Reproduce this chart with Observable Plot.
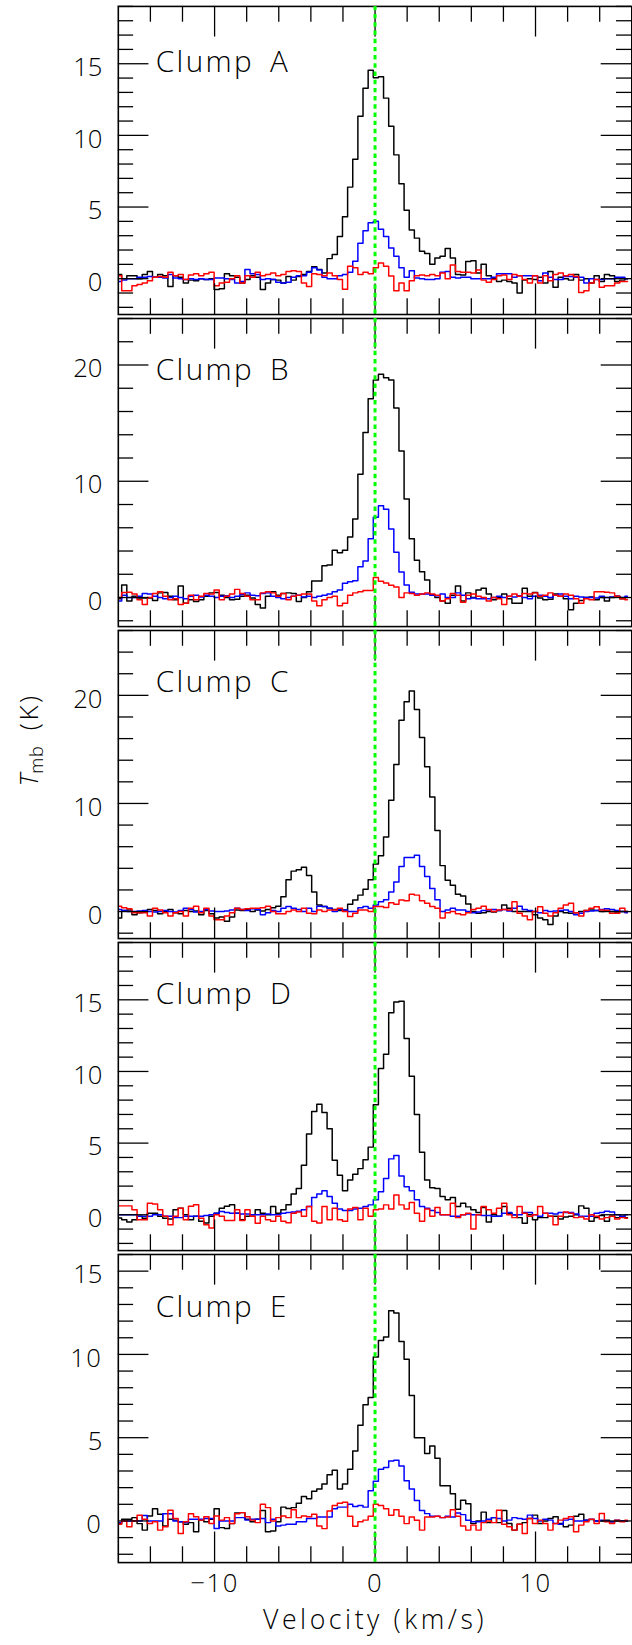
<!DOCTYPE html>
<html><head><meta charset="utf-8">
<script src="https://cdn.jsdelivr.net/npm/d3@7"></script>
<script src="https://cdn.jsdelivr.net/npm/@observablehq/plot@0.6"></script>
<style>
html,body{margin:0;padding:0;background:#fff;overflow:hidden}
#fig{position:relative;width:632px;height:1645px;overflow:hidden;background:#fff;font-family:"Open Sans","Liberation Sans",Arial,sans-serif;font-weight:300}
#fig svg{position:absolute;left:0}
#fig svg text{font-weight:300}
#ylab{position:absolute;left:30px;top:740px;transform:translate(-50%,-50%) rotate(-90deg);font-size:26px;white-space:nowrap;line-height:1;color:#000}
#ylab sub{font-size:18px;vertical-align:-5px;letter-spacing:1px}
#ylab .k{margin-left:15px;letter-spacing:2.5px}
</style></head><body>
<div id="fig"><div id="ylab"><i>T</i><sub>mb</sub><span class="k">(K)</span></div></div>
<script>
// channel grid (km/s)
const V0 = -15.95, DV = 0.32;

const clumpA_black = [
 0.3,0.0,0.2,0.2,0.0,0.3,0.5,0.1,0.3,0.2,
 -0.55,0.2,0.1,-0.3,-0.1,-0.15,0.0,-0.05,0.0,-0.75,
 -0.7,0.35,0.2,0.1,-0.3,-0.05,0.2,0.1,-0.75,-0.3,
 -0.05,-0.1,-0.3,0.15,-0.1,0.15,0.3,0.5,0.83,0.65,
 0.4,1.4,1.68,2.94,4.32,6.39,8.34,11.33,13.29,14.55,
 14.02,14.09,12.6,10.64,8.64,6.62,4.78,3.4,2.83,1.91,
 1.75,1.0,1.45,1.56,2.1,1.45,0.3,0.25,1.2,1.25,
 0.4,1.0,0.2,0.0,-0.2,-0.1,-0.2,-0.3,-1.0,-0.1,
 0.0,-0.05,0.1,-0.3,0.5,-0.6,0.1,0.0,-0.1,0.3,
 -0.1,0.0,-0.3,0.2,-0.2,0.3,0.2,-0.2,-0.1,0.0];
const clumpA_blue = [
 -0.2,-0.1,0.0,0.0,0.1,0.1,0.15,0.1,0.1,0.05,
 0.3,0.05,0.0,-0.05,0.0,-0.05,0.0,-0.05,-0.05,0.05,
 0.05,0.0,-0.05,-0.3,-0.2,0.64,0.35,0.3,-0.05,0.0,
 -0.05,-0.25,-0.3,-0.25,0.1,0.2,0.2,0.45,0.76,0.6,
 0.1,0.0,0.0,0.2,0.3,0.45,1.22,2.48,3.35,3.9,
 4.0,3.45,2.94,2.14,1.56,0.76,0.1,0.55,0.05,0.0,
 -0.05,-0.05,0.0,0.45,0.5,0.1,0.05,0.1,0.1,0.0,
 0.0,0.0,0.0,0.1,0.35,0.35,0.35,0.1,0.2,0.2,
 0.2,0.2,-0.15,0.4,0.1,-0.05,-0.05,0.15,0.15,0.1,
 0.1,-0.3,0.0,-0.05,-0.05,0.0,0.0,0.1,0.1,0.0];
const clumpA_red = [
 0.2,-0.85,-0.85,-0.5,-0.4,-0.3,-0.15,0.1,0.15,0.1,
 0.45,0.2,0.3,-0.05,0.25,0.35,0.2,0.35,0.45,-0.5,
 -0.3,-0.25,0.0,0.2,-0.3,0.2,0.1,0.45,0.2,0.3,
 0.4,0.2,0.3,0.5,0.55,0.5,-0.3,-0.55,0.35,0.3,
 0.2,0.4,0.2,-0.05,-0.74,0.87,0.76,0.3,0.45,0.35,
 0.76,1.1,0.87,0.18,-0.85,-0.3,-0.85,-0.15,0.2,0.25,
 0.2,0.3,0.2,0.4,0.0,0.95,0.5,0.45,0.45,0.4,
 0.6,-0.1,-0.25,-0.05,0.2,0.25,-0.05,0.3,0.2,-0.05,
 -0.3,0.2,-0.3,0.2,-0.15,0.3,0.4,0.2,0.3,0.15,
 -0.96,-0.85,-0.3,-0.05,-0.6,-0.5,-0.5,-0.3,-0.2,-0.2];

const clumpB_black = [
 -0.1,1.08,-0.3,0.1,-0.05,-0.05,-0.05,-0.25,0.4,0.43,
 0.1,-0.2,1.0,-0.5,-0.2,-0.35,-0.2,0.1,0.4,0.43,
 0.2,0.0,-0.2,-0.15,0.1,0.2,-0.05,-0.6,-0.9,0.1,
 0.5,0.2,0.35,0.4,0.35,-0.35,0.0,0.5,1.42,1.42,
 2.73,2.8,4.06,3.85,4.06,5.2,6.76,10.6,14.2,17.1,
 18.7,19.2,18.9,18.7,16.3,12.6,8.47,5.06,3.21,2.22,
 1.5,0.23,0.0,-0.3,-0.5,0.2,1.0,-0.3,0.4,0.0,
 0.65,0.8,0.3,-0.2,0.0,0.3,-0.1,-0.5,-0.5,0.8,
 0.1,0.43,-0.05,-0.2,-0.15,0.3,0.1,-0.1,-1.05,-0.5,
 -0.25,0.0,0.05,-0.2,0.0,-0.3,0.0,0.1,-0.1,0.0];
const clumpB_blue = [
 -0.3,0.2,0.0,0.0,0.1,0.35,0.3,0.1,0.0,-0.1,
 0.0,0.1,0.0,-0.1,0.1,0.2,0.05,0.2,0.1,0.0,
 0.1,0.15,0.0,0.1,0.25,0.4,0.2,0.15,0.35,0.4,
 0.1,0.0,-0.1,0.0,0.1,0.2,0.05,0.1,0.0,0.1,
 0.2,0.3,0.5,0.65,1.22,1.36,1.45,2.64,3.15,5.06,
 6.9,7.9,7.6,5.9,3.9,2.2,1.08,0.45,0.3,0.3,
 0.3,0.2,0.15,0.3,0.0,0.0,0.4,0.2,-0.1,-0.05,
 -0.1,-0.1,-0.1,0.0,0.1,0.0,0.1,0.05,0.15,0.0,
 -0.1,0.1,0.2,0.1,0.0,0.2,0.3,0.1,-0.1,0.1,
 0.05,0.0,0.0,-0.05,0.1,0.0,0.05,0.1,0.0,0.1];
const clumpB_red = [
 0.0,0.43,0.45,0.3,-0.2,-0.6,0.0,0.35,0.5,0.1,
 -0.2,-0.1,-0.6,-0.5,0.2,-0.2,0.1,0.35,0.3,0.65,
 -0.2,0.1,0.3,0.7,0.35,0.1,-0.2,-0.2,0.4,0.5,
 0.4,0.1,0.35,-0.2,0.1,0.2,0.3,0.3,-0.3,-0.7,
 -0.2,0.0,0.1,-0.7,-0.5,0.2,0.4,0.5,0.6,0.6,
 1.73,1.4,1.25,1.05,0.9,0.0,0.4,0.35,0.2,0.3,
 0.4,0.3,0.2,-0.3,-0.1,0.35,0.2,-0.4,0.2,0.3,
 0.1,0.0,-0.3,0.0,-0.1,-0.6,0.1,0.3,0.1,0.35,
 0.3,0.4,0.1,0.2,0.4,0.2,0.1,0.3,0.2,-0.1,
 -0.5,-0.1,-0.2,0.5,0.5,0.45,0.4,0.1,-0.1,-0.2];

const clumpC_black = [
 -0.6,0.1,0.15,-0.3,-0.1,0.0,0.2,0.1,-0.2,0.0,
 0.2,-0.1,-0.2,0.1,0.0,0.05,-0.3,0.1,-0.2,-0.6,
 -0.5,-0.9,-0.5,0.15,0.1,0.2,0.0,0.15,0.05,0.2,
 0.35,0.5,1.37,2.95,3.74,3.86,4.1,3.34,1.82,0.6,
 0.46,0.3,0.2,0.1,0.15,0.67,1.06,1.52,2.07,2.95,
 4.4,5.17,6.9,10.3,13.6,17.7,19.4,20.4,18.7,16.1,
 13.4,10.6,7.5,4.25,2.9,2.43,1.6,1.45,0.7,0.0,
 -0.15,-0.1,0.0,-0.05,0.1,0.6,0.3,0.0,0.0,0.0,
 0.0,-0.3,-0.6,-0.76,-1.2,-0.4,0.0,-0.1,-0.15,-0.1,
 0.0,0.1,0.15,0.1,0.0,0.1,0.0,-0.05,0.0,0.0];
const clumpC_blue = [
 0.2,0.1,0.0,0.0,0.05,0.1,0.0,-0.05,0.0,0.1,
 0.0,-0.05,0.1,0.3,0.2,-0.05,0.0,0.2,0.05,0.0,
 0.0,0.05,0.15,0.3,0.2,0.1,0.25,0.2,-0.3,-0.1,
 0.1,0.0,0.3,0.46,0.3,0.2,0.0,0.3,0.0,0.5,
 0.46,0.3,0.0,0.2,0.15,0.0,0.0,0.36,0.46,0.3,
 0.6,0.9,1.1,1.82,2.73,4.16,5.0,5.0,5.2,4.16,
 3.25,2.13,1.1,0.0,0.15,0.3,0.15,0.15,0.0,-0.1,
 -0.05,0.1,0.15,0.2,0.1,0.2,0.05,0.3,0.5,0.2,
 0.1,0.0,-0.1,0.1,0.0,0.05,0.1,0.15,0.0,-0.3,
 -0.15,0.0,0.05,0.1,0.2,0.25,0.2,0.1,0.0,-0.1];
const clumpC_red = [
 0.5,0.35,0.25,-0.1,-0.1,-0.1,-0.4,0.3,0.15,-0.1,
 -0.4,-0.1,0.0,-0.4,0.3,0.5,-0.1,0.3,-0.4,-0.76,
 -0.76,-0.4,-0.1,0.3,0.2,0.25,0.3,0.3,0.35,0.5,
 0.0,-0.2,-0.2,0.0,0.15,0.0,0.3,-0.15,-0.2,0.15,
 0.0,0.15,0.15,0.3,0.0,-0.46,-0.15,0.15,0.15,0.0,
 0.46,0.46,0.37,0.82,0.67,1.06,1.0,1.6,1.52,1.0,
 0.76,0.46,0.3,-0.6,-0.1,0.0,-0.2,-0.3,-0.1,0.2,
 0.3,0.5,0.2,0.0,0.15,0.2,0.15,0.9,-0.15,-0.4,
 -0.76,0.0,0.45,-0.15,-0.4,-0.1,0.3,0.6,0.76,-0.1,
 -0.4,0.1,0.3,0.45,0.15,0.1,-0.15,-0.15,0.3,0.0];

const clumpD_black = [
 -0.23,-0.35,-0.5,-0.35,-0.1,-0.25,0.1,0.1,-0.1,-0.25,
 -0.3,0.35,0.46,0.0,-0.35,-0.1,-0.45,-0.58,-0.1,0.1,
 0.46,0.6,0.7,0.1,-0.35,-0.1,0.0,0.35,0.1,0.0,
 0.58,0.1,0.35,0.7,1.45,1.84,3.45,5.64,7.2,7.71,
 7.14,6.0,3.8,2.76,1.68,2.42,2.83,3.22,3.84,4.72,
 7.67,10.2,11.2,14.1,14.85,14.9,12.3,9.67,7.0,4.37,
 2.42,1.89,1.84,1.27,1.04,1.2,0.58,0.8,0.55,0.35,
 0.15,0.5,-0.5,0.0,-0.1,0.58,0.1,0.0,-0.2,-0.6,
 0.0,-0.35,-0.2,-0.2,-0.1,-0.1,-0.3,-0.15,-0.1,0.0,
 0.62,0.46,-0.46,-0.2,-0.05,-0.46,-0.1,-0.2,-0.1,-0.2];
const clumpD_blue = [
 0.0,0.0,0.0,0.0,-0.1,-0.1,-0.1,0.0,0.0,-0.1,
 -0.1,-0.2,-0.2,-0.1,-0.1,-0.1,-0.1,-0.05,0.0,0.1,
 0.23,0.15,0.1,0.1,0.05,0.05,0.0,0.0,0.0,0.05,
 0.0,0.0,0.1,0.15,0.2,0.25,0.35,0.58,1.2,1.45,
 1.68,1.27,0.8,0.4,0.3,0.3,0.4,0.46,0.58,0.69,
 1.04,1.61,2.53,3.9,4.14,2.7,1.96,1.68,1.04,0.58,
 0.46,0.3,0.15,0.0,0.0,-0.1,-0.1,0.0,0.05,0.0,
 0.0,-0.05,-0.05,-0.1,-0.1,0.1,0.15,0.0,0.0,0.15,
 0.15,0.0,-0.1,0.1,0.1,0.05,0.15,0.15,0.15,0.05,
 -0.1,-0.1,-0.1,0.1,0.15,0.25,0.2,0.0,-0.1,0.0];
const clumpD_red = [
 0.62,0.62,0.62,0.35,-0.35,-0.35,0.8,0.75,0.35,-0.1,
 -0.7,-0.1,0.46,-0.35,0.6,0.7,-0.25,-0.7,-0.92,0.0,
 -0.1,-0.4,-0.4,0.35,-0.4,0.35,-0.1,-0.6,-0.1,-0.35,
 -0.45,-0.1,-0.45,-0.55,0.1,0.2,-0.1,0.58,-0.46,-0.58,
 0.58,-0.35,0.46,-0.35,-0.46,0.4,0.5,-0.35,0.46,-0.1,
 0.35,0.4,0.69,0.4,1.38,0.69,0.4,0.85,0.1,-0.46,
 0.4,-0.1,0.5,0.0,0.0,0.8,-0.2,0.0,0.1,-1.0,
 0.0,0.58,0.35,0.1,0.46,0.8,0.0,-0.2,0.58,0.1,
 -0.1,0.0,0.58,0.1,-0.1,-0.7,-0.1,0.2,0.1,-0.2,
 -0.15,-0.3,0.0,-0.1,-0.3,-0.2,-0.1,-0.3,-0.2,-0.25];

const clumpE_black = [
 -0.16,0.1,0.1,0.2,-0.16,-0.55,0.3,0.73,0.4,-0.3,
 0.1,0.05,-0.05,-0.2,-0.1,-0.65,0.05,-0.05,0.1,0.73,
 -0.4,-0.45,-0.16,0.48,0.5,0.1,-0.05,0.1,0.63,-0.65,
 -0.6,-0.05,0.83,0.75,0.8,1.07,1.47,1.33,1.78,1.92,
 2.22,2.77,3.05,1.92,2.22,3.11,4.2,5.75,6.98,7.41,
 9.85,10.84,11.04,12.62,12.48,10.78,9.71,7.53,5.0,5.0,
 4.05,4.5,3.77,2.12,2.12,1.63,0.7,1.25,1.03,-0.16,
 0.0,0.53,-0.1,0.2,-0.1,0.63,-0.15,-0.55,-0.2,-0.1,
 0.15,0.35,-0.15,0.0,0.15,0.25,-0.15,-0.35,-0.25,0.28,
 0.4,0.05,0.08,0.0,0.0,0.05,-0.05,0.0,0.0,0.0];
const clumpE_blue = [
 -0.1,0.0,0.0,0.0,0.0,0.33,0.0,0.0,0.0,0.43,
 0.43,0.0,-0.05,-0.1,0.1,0.1,0.1,0.15,0.15,-0.45,
 0.0,0.0,0.0,0.2,0.2,0.05,0.1,0.1,0.15,-0.1,
 0.1,-0.3,-0.25,-0.2,-0.2,-0.05,-0.05,0.15,0.15,0.24,
 0.24,0.24,0.73,0.83,0.83,1.0,0.87,0.93,0.83,1.82,
 2.38,3.11,3.21,3.6,3.65,3.3,2.42,1.92,1.23,0.63,
 0.44,0.28,0.28,0.2,0.28,0.24,0.48,0.38,0.04,-0.05,
 -0.05,0.0,0.1,0.2,0.15,0.0,0.05,0.2,0.15,0.1,
 0.35,0.15,0.0,0.1,0.05,-0.15,-0.2,0.05,0.1,0.0,
 0.0,0.05,0.1,0.0,0.05,0.0,-0.05,0.05,0.0,0.0];
const clumpE_red = [
 -0.2,0.0,-0.35,0.0,0.34,0.1,-0.15,-0.05,-0.55,-0.35,
 0.64,0.15,-0.75,-0.05,0.43,0.25,0.05,0.25,-0.15,0.3,
 0.05,0.2,-0.15,0.43,0.5,0.25,0.05,-0.1,1.0,0.8,
 0.0,0.2,0.3,0.2,0.67,0.2,0.3,0.25,0.4,-0.3,
 -0.46,0.6,0.93,1.07,1.13,0.28,-0.32,-0.05,0.05,0.28,
 1.0,0.93,0.73,0.34,0.67,0.28,-0.16,0.24,0.04,-0.55,
 0.24,0.24,0.28,0.2,0.24,0.67,0.28,-0.3,-0.55,-0.25,
 -0.55,-0.1,0.0,-0.1,0.64,-0.2,-0.35,-0.55,-0.2,-0.75,
 0.15,-0.15,0.05,-0.15,-0.55,-0.15,0.05,0.15,0.25,-0.65,
 -0.25,-0.05,0.1,-0.15,0.45,-0.05,-0.15,0.05,-0.05,0.05];

const clumpNames = ["Clump A", "Clump B", "Clump C", "Clump D", "Clump E"];
const yTop = [19, 24, 26, 19, 16];
const yBottom = -2.5;
const yMajorTicks = [[0,5,10,15],[0,10,20],[0,10,20],[0,5,10,15],[0,5,10,15]];
const yMinorStep = [1, 2, 2, 1, 1];
const xMajorTicks = [-10, 0, 10];
const xMinorTicks = [-14,-12,-8,-6,-4,-2,2,4,6,8,12,14];
const xTickLabels = [-10, 0, 10];
const xTitle = "Velocity (km/s)";
const series = [
  [clumpA_black, clumpA_blue, clumpA_red],
  [clumpB_black, clumpB_blue, clumpB_red],
  [clumpC_black, clumpC_blue, clumpC_red],
  [clumpD_black, clumpD_blue, clumpD_red],
  [clumpE_black, clumpE_blue, clumpE_red]
];
const lineColors = ["#000000", "#0000ff", "#ff0000"];

// layout
const FRAME_H = 312, FRAME_TOP = 6, FW = 520;
const labelBase = [66, 62, 62, 62, 63];
const MAJ = 31, MIN = 15.5;

const fig = document.getElementById("fig");
const fmt = d => d < 0 ? "\u2212" + Math.abs(d) : String(d);
const xLabelTexts = xTickLabels.map(fmt);

clumpNames.forEach((name, i) => {
  const mt = i === 0 ? FRAME_TOP : 0;
  const mb = i === 4 ? 79 : 0;
  const minor = d3.range(-2, yTop[i] + 1e-9, yMinorStep[i]).filter(v => !yMajorTicks[i].includes(v));
  const lines = series[i].map((arr, j) => Plot.line(arr.map((T, k) => ({v: V0 + k * DV, T})), {
    x: "v", y: "T", curve: "step", stroke: lineColors[j], strokeWidth: 1.5
  }));
  const tickStyle = {stroke: "black", strokeWidth: 1.3};
  const marks = [
    ...lines,
    Plot.tickY(yMajorTicks[i], {y: d => d, insetRight: FW - MAJ, ...tickStyle}),
    Plot.tickY(minor, {y: d => d, insetRight: FW - MIN, ...tickStyle}),
    Plot.tickY(yMajorTicks[i], {y: d => d, insetLeft: FW - MAJ, ...tickStyle}),
    Plot.tickY(minor, {y: d => d, insetLeft: FW - MIN, ...tickStyle}),
    Plot.tickX(xMajorTicks, {x: d => d, insetBottom: FRAME_H - MAJ, ...tickStyle}),
    Plot.tickX(xMinorTicks, {x: d => d, insetBottom: FRAME_H - MIN - 0.5, ...tickStyle}),
    Plot.tickX(xMajorTicks, {x: d => d, insetTop: FRAME_H - MAJ, ...tickStyle}),
    Plot.tickX(xMinorTicks, {x: d => d, insetTop: FRAME_H - MIN - 0.5, ...tickStyle}),
    Plot.frame({stroke: "black", strokeWidth: 1.6}),
    Plot.ruleX([0], {stroke: "#00ff00", strokeWidth: 3, strokeDasharray: "4.5,3.8"}),
    Plot.text(yMajorTicks[i], {y: d => d, text: d => fmt(d), frameAnchor: "left", dx: -16, dy: 4, textAnchor: "end", fontSize: 26}),
    Plot.text([name], {text: d => d, frameAnchor: "top-left", dx: 38, dy: labelBase[i], textAnchor: "start", lineAnchor: "bottom", fontSize: 30})
  ];
  if (i === 4) {
    marks.push(Plot.text(xTickLabels, {x: d => d, text: d => fmt(d), frameAnchor: "bottom", dy: 30, fontSize: 26}));
    marks.push(Plot.text([xTitle], {text: d => d, frameAnchor: "bottom", dy: 67, lineAnchor: "bottom", fontSize: 27}));
  }
  const svg = Plot.plot({
    width: 640, height: FRAME_H + mt + mb,
    marginLeft: 119.3, marginRight: 0.7, marginTop: mt, marginBottom: mb,
    x: {domain: [-16, 16], axis: null},
    y: {domain: [yBottom, yTop[i]], axis: null},
    style: {background: "transparent", overflow: "visible", fontFamily: "'Open Sans', 'Liberation Sans', Arial, sans-serif", fontSize: "26px", color: "black"},
    marks
  });
  // typographic spacing to mimic the wide plotting font
  svg.querySelectorAll("text").forEach(t => {
    const s = t.textContent;
    if (s === name) { t.style.letterSpacing = "2.4px"; t.style.wordSpacing = "6px"; }
    else if (s === xTitle) { t.style.letterSpacing = "3.6px"; }
    else if (i === 4 && xLabelTexts.includes(s) && t.getAttribute("text-anchor") !== "end") { t.style.letterSpacing = "1.5px"; }
  });
  svg.style.top = (FRAME_TOP + FRAME_H * i - mt) + "px";
  fig.appendChild(svg);
});
</script></body></html>
